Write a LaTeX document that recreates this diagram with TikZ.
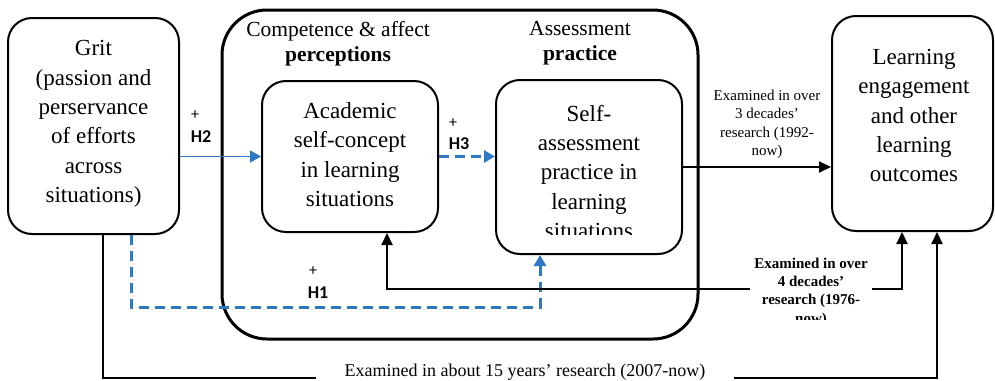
\documentclass[tikz,border=0pt]{standalone}
\usepackage{fontspec}
\setmainfont{Liberation Serif}
\newfontfamily\hfont{Carlito}
\usetikzlibrary{arrows.meta}
\definecolor{hblue}{HTML}{2E78C4}
\begin{document}
\begin{tikzpicture}[x=1pt,y=-1pt,
 box/.style={draw, line width=2pt, rounded corners=24pt, inner sep=0pt},
 bigtext/.style={align=center, font=\fontsize{23}{29.3}\selectfont, inner sep=0pt},
 head/.style={align=center, font=\fontsize{21.5}{25}\selectfont, inner sep=0pt},
 small/.style={align=center, font=\fontsize{15}{18.3}\selectfont, inner sep=0pt},
 hlab/.style={font=\hfont\bfseries\fontsize{18}{20}\selectfont, inner sep=0pt},
 plus/.style={font=\hfont\fontsize{16}{18}\selectfont, inner sep=0pt},
 conn/.style={line width=2pt, -{Triangle[length=12pt,width=11pt]}},
 bconn/.style={hblue, line width=1.3pt, -{Triangle[length=11pt,width=12pt]}},
 bdash/.style={hblue, line width=3pt, dash pattern=on 10pt off 6pt, -{Triangle[length=11pt,width=12pt]}},
]
\useasboundingbox (0,0) rectangle (995,380);

% boxes
\node[box, minimum width=171pt, minimum height=216pt] (grit) at (93.5,126) {};
\node[bigtext] (gritt) at (93.5,124) {Grit\\(passion and\\perservance\\of efforts\\across\\situations)};

\node[box, line width=3pt, rounded corners=45pt, minimum width=476pt, minimum height=329pt] (outer) at (460,174.5) {};
\node[head] (comp) at (338,43.5) {Competence \& affect\\\textbf{perceptions}};
\node[head] (assess) at (580,43.5) {Assessment\\\textbf{practice}};

\node[box, minimum width=176pt, minimum height=151pt] (acad) at (350,156.5) {};
\node[bigtext] (acadt) at (350,154.5) {Academic\\self-concept\\in learning\\situations};

\node[box, minimum width=186pt, minimum height=174pt] (self) at (589,167) {};
\begin{scope}
\clip (496,80) rectangle (682,234.5);
\node[bigtext] (selft) at (589,172) {Self-\\assessment\\practice in\\learning\\situations};
\end{scope}

\node[box, minimum width=161pt, minimum height=215pt] (learn) at (912.5,123.5) {};
\node[bigtext] (learnt) at (914,115.5) {Learning\\engagement\\and other\\learning\\outcomes};

% connectors
\draw[bconn] (grit.east |- acad.west) -- (acad.west);
\draw[bdash] (acad.east) -- (self.west |- acad.east);
\draw[conn] (self.east) -- (learn.west |- self.east);
\draw[bdash] ([xshift=37.5pt]grit.south) -- ++(0,72) -| ([xshift=-49pt]self.south);
\draw[conn, {Triangle[length=12pt,width=11pt]}-{Triangle[length=12pt,width=11pt]}]
  ([xshift=37pt]acad.south) -- ++(0,56) -| ([xshift=-10.5pt]learn.south);
\draw[conn] ([xshift=9.5pt]grit.south) -- ++(0,143) -| ([xshift=24.5pt]learn.south);

% labels
\node[plus] (p2) at (195,115) {+};
\node[hlab] (h2) at (201,137) {H2};
\node[plus] (p3) at (453,123) {+};
\node[hlab] (h3) at (459,144) {H3};
\node[plus] (p1) at (313,271) {+};
\node[hlab] (h1) at (318,293) {H1};

\node[small] (l3) at (767,124.5) {Examined in over\\3 decades’\\research (1992-\\now)};
\begin{scope}
\clip (700,240) rectangle (890,319.5);
\node[small, font=\fontsize{15}{18.3}\selectfont\bfseries, fill=white, inner xsep=4.5pt, inner ysep=3pt] (l4) at (811,292) {Examined in over\\4 decades’\\research (1976-\\now)};
\end{scope}
\node[font=\fontsize{18}{20}\selectfont, fill=white, inner xsep=29pt, inner ysep=2pt, anchor=base] (l15) at (525,376) {Examined in about 15 years’ research (2007-now)};
\end{tikzpicture}
\end{document}
